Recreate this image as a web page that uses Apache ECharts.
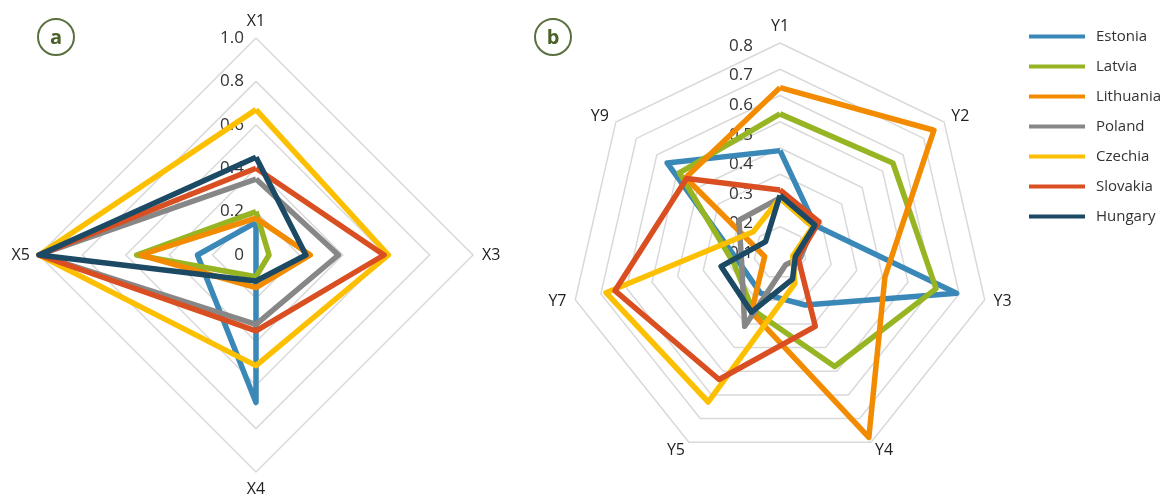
<!DOCTYPE html>
<html>
<head>
	<meta charset="utf-8" />
	<title>radar</title>
	<script type="text/javascript" src="https://cdn.jsdelivr.net/npm/echarts@6/dist/echarts.min.js"></script>
	<style>
		html, body {margin:0;padding:0;background:#fff;}
		#chart {width:1166px;height:498px;}
	</style>
</head>
<body>
	<div id="chart"></div>
	<script>
		// axes, listed clockwise starting from the top
		var catsA = ['X1', 'X3', 'X4', 'X5'];
		var catsB = ['Y1', 'Y2', 'Y3', 'Y4', 'Y5', 'Y7', 'Y9'];

		var ticksA = ['0', '0.2', '0.4', '0.6', '0.8', '1.0'];
		var ticksB = ['0.1', '0.2', '0.3', '0.4', '0.5', '0.6', '0.7', '0.8'];

		var countries = ['Estonia', 'Latvia', 'Lithuania', 'Poland', 'Czechia', 'Slovakia', 'Hungary'];
		var colors    = ['#3a88b8', '#97b523', '#f38b00', '#878787', '#fcc000', '#da4f21', '#1c4963'];

		// panel a : X1, X3, X4, X5
		var estoniaA   = [0.15, 0.00, 0.68, 0.27];
		var latviaA    = [0.20, 0.06, 0.10, 0.55];
		var lithuaniaA = [0.17, 0.25, 0.15, 0.53];
		var polandA    = [0.35, 0.38, 0.32, 1.00];
		var czechiaA   = [0.67, 0.61, 0.51, 1.00];
		var slovakiaA  = [0.40, 0.59, 0.35, 1.00];
		var hungaryA   = [0.45, 0.23, 0.12, 1.00];

		// panel b : Y1, Y2, Y3, Y4, Y5, Y7, Y9
		var estoniaB   = [0.39, 0.17, 0.69, 0.22, 0.17, 0.16, 0.55];
		var latviaB    = [0.53, 0.55, 0.61, 0.48, 0.24, 0.18, 0.49];
		var lithuaniaB = [0.63, 0.75, 0.41, 0.78, 0.25, 0.06, 0.46];
		var polandB    = [0.21, 0.16, 0.08, 0.05, 0.31, 0.15, 0.20];
		var czechiaB   = [0.21, 0.16, 0.05, 0.13, 0.63, 0.68, 0.13];
		var slovakiaB  = [0.24, 0.19, 0.07, 0.31, 0.535, 0.645, 0.455];
		var hungaryB   = [0.22, 0.17, 0.06, 0.11, 0.25, 0.23, 0.07];

		var valuesA = [estoniaA, latviaA, lithuaniaA, polandA, czechiaA, slovakiaA, hungaryA];
		var valuesB = [estoniaB, latviaB, lithuaniaB, polandB, czechiaB, slovakiaB, hungaryB];

		var FONT = '"Open Sans", "Noto Sans", sans-serif';
		var chart;

		fnChart();

		// echarts puts radar indicators counter-clockwise, so flip the order
		function ccw(arr) {
			return [arr[0]].concat(arr.slice(1).reverse());
		}

		function indicators(cats, min, max, label) {
			return ccw(cats).map(function(n, i) {
				var o = {name: n, min: min, max: max};
				if (i == 0 && label) o.axisLabel = label;
				return o;
			});
		}

		function fnChart() {
			chart = echarts.init(document.getElementById('chart'));

			var gridLine = {lineStyle: {color: '#d9d9d9', width: 1.5}};
			var axisName = {color: '#222', fontSize: 16, fontFamily: FONT};

			var series = [];
			countries.forEach(function(c, i) {
				series.push({
					type: 'radar', radarIndex: 0, name: c, symbol: 'none', z: 2 + i,
					lineStyle: {width: 5.5, color: colors[i]}, itemStyle: {color: colors[i]},
					data: [{name: c, value: ccw(valuesA[i])}]
				});
				series.push({
					type: 'radar', radarIndex: 1, name: c, symbol: 'none', z: 2 + i,
					lineStyle: {width: 5.5, color: colors[i]}, itemStyle: {color: colors[i]},
					data: [{name: c, value: ccw(valuesB[i])}]
				});
			});

			var option = {
				animation: false,
				textStyle: {fontFamily: FONT},
				legend: {
					orient: 'vertical', left: 1024, top: 24,
					itemWidth: 56, itemHeight: 4, itemGap: 15, icon: 'rect',
					selectedMode: false,
					data: countries,
					textStyle: {fontSize: 15, color: '#333', fontFamily: FONT, padding: [0, 0, 0, 6]}
				},
				radar: [
					{
						center: [256, 255], radius: 217, startAngle: 90, shape: 'polygon', splitNumber: 5,
						indicator: indicators(catsA, 0, 1, {
							show: true, margin: 12, fontSize: 17, color: '#333', fontFamily: FONT,
							formatter: function(v, i) { return ticksA[i]; }
						}),
						axisName: axisName, nameGap: 9,
						splitLine: gridLine, splitArea: {show: false}, axisLine: {show: false},
						axisLabel: {show: false}
					},
					{
						center: [780, 253], radius: 210, startAngle: 90, shape: 'polygon', splitNumber: 8,
						indicator: indicators(catsB, 0, 0.8),
						axisName: axisName, nameGap: 9,
						splitLine: gridLine, splitArea: {show: false}, axisLine: {show: false},
						axisLabel: {show: false}
					},
					{
						// tick labels of panel b as printed in the figure
						center: [780, 253], radius: 207, startAngle: 90, shape: 'polygon', splitNumber: 7,
						indicator: indicators(catsB, 0.1, 0.8, {
							show: true, margin: 27, fontSize: 17, color: '#333', fontFamily: FONT,
							formatter: function(v, i) { return ticksB[i]; }
						}),
						axisName: {show: false},
						splitLine: {show: false}, splitArea: {show: false}, axisLine: {show: false},
						axisLabel: {show: false}
					}
				],
				graphic: [
					{type: 'circle', shape: {cx: 56, cy: 37, r: 18}, style: {fill: '#fff', stroke: '#5b7040', lineWidth: 2}},
					{type: 'text', x: 56, y: 38, style: {text: 'a', fill: '#4a6127', font: 'bold 20px ' + FONT, align: 'center', verticalAlign: 'middle'}},
					{type: 'circle', shape: {cx: 553, cy: 37, r: 18}, style: {fill: '#fff', stroke: '#5b7040', lineWidth: 2}},
					{type: 'text', x: 553, y: 38, style: {text: 'b', fill: '#4a6127', font: 'bold 20px ' + FONT, align: 'center', verticalAlign: 'middle'}}
				],
				series: series
			};

			chart.setOption(option);
		}
	</script>
</body>
</html>
